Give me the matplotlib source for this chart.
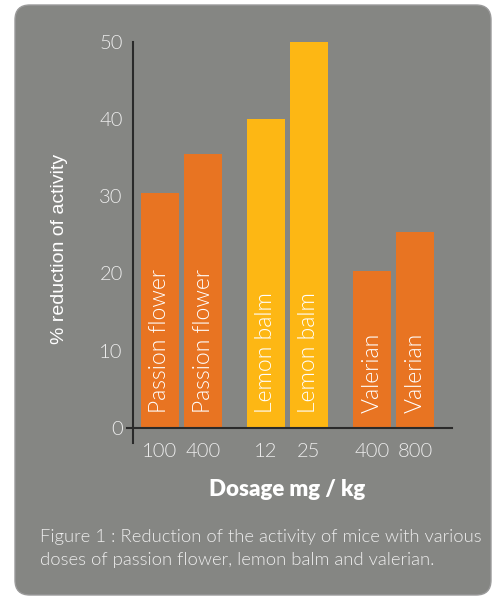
import matplotlib
matplotlib.use("Agg")
import matplotlib.pyplot as plt
from matplotlib.patches import FancyBboxPatch

plt.rcParams['font.family'] = ['Lato', 'DejaVu Sans']

# Data
plants = ["Passion flower", "Passion flower", "Lemon balm", "Lemon balm", "Valerian", "Valerian"]
doses = ["100", "400", "12", "25", "400", "800"]
values = [30.4, 35.5, 40, 50, 20.3, 25.4]
group_of_bar = [0, 0, 1, 1, 2, 2]
yticks = [0, 10, 20, 30, 40, 50]

ORANGE = "#E87422"
YELLOW = "#FDB714"
colors = [ORANGE, ORANGE, YELLOW, YELLOW, ORANGE, ORANGE]
BG = "#858683"
TXT = "#EDEDED"

W, H = 495, 599
fig = plt.figure(figsize=(W / 100, H / 100), dpi=100)
fig.patch.set_facecolor("white")

# rounded grey panel
panel = FancyBboxPatch((15 / W, (H - 595) / H), (491 - 15) / W, (595 - 5) / H,
                       boxstyle="round,pad=0,rounding_size=0.03",
                       transform=fig.transFigure, facecolor=BG, edgecolor="#9a9a9a",
                       linewidth=1.0, mutation_aspect=W / H, zorder=-10)
fig.patches.append(panel)

# axes placement in pixels
px_left, px_right = 127, 452
px_zero, px_fifty = 427.7, 42.0
unit = (px_zero - px_fifty) / 50.0
ymin = -2.0
px_bottom = px_zero - ymin * unit
ax = fig.add_axes([px_left / W, (H - px_bottom) / H, (px_right - px_left) / W,
                   (px_bottom - px_fifty) / H])
ax.set_facecolor("none")
ax.set_zorder(5)

gap_in, gap_group = 1.0, 1.465
positions = []
pos = 0.0
for i, g in enumerate(group_of_bar):
    if i > 0:
        pos += gap_in if g == group_of_bar[i - 1] else gap_group
    positions.append(pos)

xmin = (px_left - 160) / 43.0
xmax = (px_right - 160) / 43.0
ax.set_xlim(xmin, xmax)
ax.set_ylim(ymin, 50)

ax.bar(positions, values, width=0.884, color=colors, zorder=2)

LIGHT = 300
for x, name in zip(positions, plants):
    ax.text(x, 1.9, name, rotation=90, ha="center", va="bottom", color="white",
            fontsize=16.5, fontweight=LIGHT, zorder=3)

# axis lines
yaxis_x = (133 - 160) / 43.0
ax.plot([yaxis_x, yaxis_x], [ymin, 50], color="#2a2a2a", lw=1.5, zorder=4, clip_on=False)
ax.plot([xmin, xmax], [0, 0], color="#2a2a2a", lw=1.5, zorder=4, clip_on=False)

for s in ax.spines.values():
    s.set_visible(False)
ax.set_xticks(positions)
ax.set_xticklabels(doses, color=TXT, fontsize=14.5, fontweight=LIGHT)
ax.set_yticks(yticks)
ax.set_yticklabels([str(v) for v in yticks], color=TXT, fontsize=14.5, fontweight=LIGHT)
ax.tick_params(axis="both", length=0)
ax.tick_params(axis="x", pad=0)
ax.tick_params(axis="y", pad=3)

fig.text(59 / W, 1 - 249 / H, "% reduction of activity", rotation=90, ha="center",
         va="center", color="white", fontsize=14, family="Liberation Sans")
fig.text(287 / W, 1 - 489 / H, "Dosage mg / kg", ha="center", va="center",
         color="white", fontsize=16, fontweight="heavy")
fig.text(40 / W, 1 - 537 / H, "Figure 1 : Reduction of the activity of mice with various",
         ha="left", va="center", color=TXT, fontsize=13.3, fontweight=LIGHT)
fig.text(40 / W, 1 - 560 / H, "doses of passion flower, lemon balm and valerian.",
         ha="left", va="center", color=TXT, fontsize=13.3, fontweight=LIGHT)

fig.savefig("out.png", dpi=100, facecolor=fig.get_facecolor())
